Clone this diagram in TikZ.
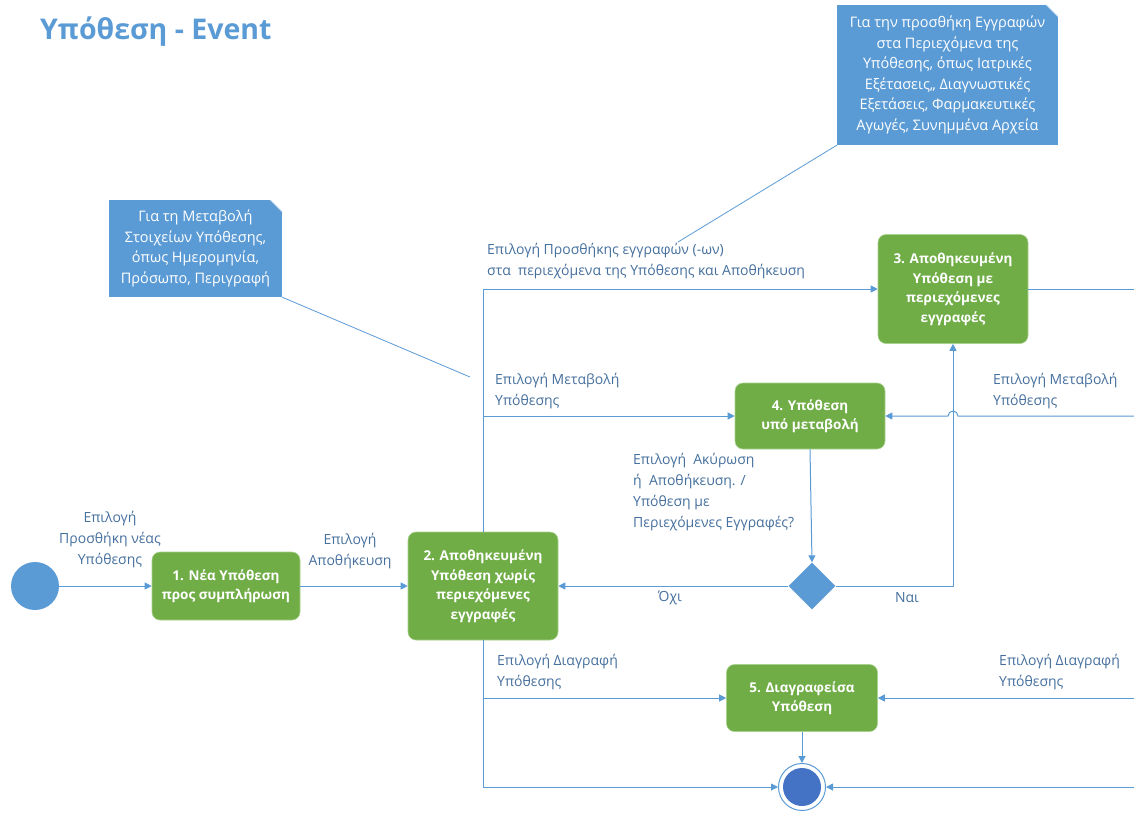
\documentclass[tikz,border=0pt]{standalone}
\usepackage{fontspec}
\setmainfont{Open Sans}
\usetikzlibrary{arrows.meta,calc,positioning,shapes.geometric}

\definecolor{accent}{RGB}{91,155,213}
\definecolor{stategreen}{RGB}{112,173,71}
\definecolor{stateedge}{RGB}{169,209,142}
\definecolor{endblue}{RGB}{68,114,196}
\definecolor{labelblue}{RGB}{70,112,158}

\begin{document}
\begin{tikzpicture}[
  x=1pt, y=-1pt,
  >={Triangle[length=7pt,width=7pt]},
  state/.style   ={draw=stateedge,line width=0.6pt,fill=stategreen,rounded corners=8pt,
                   text=white,align=center,font=\fontsize{13.5}{19.5}\selectfont\bfseries,
                   inner sep=0pt},
  note/.style    ={fill=accent,text=white,align=center,inner sep=0pt,
                   font=\fontsize{14.5}{20.5}\selectfont},
  flow/.style    ={->,draw=accent,line width=1pt},
  wire/.style    ={draw=accent,line width=1pt},
  lbl/.style     ={text=labelblue,font=\fontsize{14}{21}\selectfont,inner sep=0pt},
]
\useasboundingbox[fill=white] (0,0) rectangle (1134,812);

%% ============================================================
%%  Title
%% ============================================================
\node[anchor=west,text=accent,font=\fontsize{28.5}{32}\selectfont\bfseries,inner sep=0pt]
      (title) at (40,32) {Υπόθεση - Event};

%% ============================================================
%%  Start / end states
%% ============================================================
\node[circle,fill=accent,minimum size=48pt,inner sep=0pt] (start) at (35,586) {};
\node[circle,draw=accent,fill=white,line width=1pt,minimum size=47pt,inner sep=0pt]
      (finish) at (802,787) {};
\fill[endblue] (finish.center) circle (19);

%% ============================================================
%%  States
%% ============================================================
\node[state,minimum width=148pt,minimum height=68pt] (new) at (226,586)
      {1. Νέα Υπόθεση\\προς συμπλήρωση};
\node[state,minimum width=150pt,minimum height=108pt] (saved) at (483,586)
      {2. Αποθηκευμένη\\Υπόθεση χωρίς\\περιεχόμενες\\εγγραφές};
\node[state,minimum width=150pt,minimum height=109pt] (savedrec) at (953,289)
      {3. Αποθηκευμένη\\Υπόθεση με\\περιεχόμενες\\εγγραφές};
\node[state,minimum width=150pt,minimum height=66pt] (edit) at (810,416)
      {4. Υπόθεση\\υπό μεταβολή};
\node[state,minimum width=151pt,minimum height=67pt] (deleted) at (802,698)
      {5. Διαγραφείσα\\Υπόθεση};
\node[diamond,fill=accent,minimum size=47pt,inner sep=0pt] (choice) at (812,586) {};

%% ============================================================
%%  Transitions
%% ============================================================
\draw[flow] (start) -- (new);
\draw[flow] (new) -- (saved);
\draw[flow] (saved.north) |- (savedrec.west);
\draw[flow] (saved.north |- edit.west) -- (edit.west);
\draw[flow] (saved.south) |- (finish.west);
\draw[flow] (saved.south |- deleted.west) -- (deleted.west);
\draw[flow] (edit.south) -- (choice.north);
\draw[flow] (choice.west) -- (saved.east);
\draw[flow] (choice.east) -| (savedrec.south);
\draw[flow] (deleted.south) -- (finish.north);

%% lines coming in from the right edge
\coordinate (outrec)  at (1134,289);
\coordinate (inedit)  at (1134,416);
\coordinate (hop)     at (958,416);
\coordinate (indel)   at (1134,698);
\coordinate (infin)   at (1134,787);
\draw[wire] (savedrec.east) -- (outrec);
\draw[flow] (inedit) -- (hop) arc[start angle=0,end angle=-180,radius=5] -- (edit.east);
\draw[flow] (indel) -- (deleted.east);
\draw[flow] (infin) -- (finish.east);

%% ============================================================
%%  Transition labels
%% ============================================================
\node[lbl,align=center] (lnew) at (110,540) {Επιλογή\\Προσθήκη νέας\\Υπόθεσης};
\node[lbl,align=center] (lsave) at (350,551) {Επιλογή\\Αποθήκευση};
\node[lbl,align=left,anchor=west] (ladd) at (487,261)
      {Επιλογή Προσθήκης εγγραφών (-ων)\\στα\ \ περιεχόμενα της Υπόθεσης και Αποθήκευση};
\node[lbl,align=left,anchor=west] (ledit) at (495,391) {Επιλογή Μεταβολή\\Υπόθεσης};
\node[lbl,align=left,anchor=west] (ldel) at (497,672) {Επιλογή Διαγραφή\\Υπόθεσης};
\node[lbl,align=left,anchor=west] (leditr) at (993,391) {Επιλογή Μεταβολή\\Υπόθεσης};
\node[lbl,align=left,anchor=west] (ldelr) at (999,672) {Επιλογή Διαγραφή\\Υπόθεσης};
\node[lbl,align=left,anchor=west] (lcancel) at (633,492)
      {Επιλογή\ \ Ακύρωση\\ή\ \ Αποθήκευση. /\\Υπόθεση με\\Περιεχόμενες Εγγραφές?};
\node[lbl] (lno) at (670,598) {Όχι};
\node[lbl] (lyes) at (907,598) {Ναι};

%% ============================================================
%%  Notes
%% ============================================================
\node[note,minimum width=173pt,minimum height=97pt] (noteedit) at (195.5,248.5)
      {Για τη Μεταβολή\\Στοιχείων Υπόθεσης,\\όπως Ημερομηνία,\\Πρόσωπο, Περιγραφή};
\node[note,minimum width=221pt,minimum height=140pt] (noterec) at (947.5,75)
      {Για την προσθήκη Εγγραφών\\στα Περιεχόμενα της\\Υπόθεσης, όπως Ιατρικές\\Εξέτασεις,, Διαγνωστικές\\Εξετάσεις, Φαρμακευτικές\\Αγωγές, Συνημμένα Αρχεία};
\foreach \n in {noteedit,noterec}{
  \fill[white] (\n.north east) -- ($(\n.north east)+(-12,0)$) -- ($(\n.north east)+(0,12)$) -- cycle;
  \draw[accent!40,line width=0.6pt] ($(\n.north east)+(-12,0)$) -- ($(\n.north east)+(0,12)$);
}
\coordinate (tipedit) at (470,377);
\coordinate (tiprec)  at (678,242);
\draw[accent,line width=0.8pt] (noteedit.south east) -- (tipedit);
\draw[accent,line width=0.8pt] (noterec.south west) -- (tiprec);

\end{tikzpicture}
\end{document}
